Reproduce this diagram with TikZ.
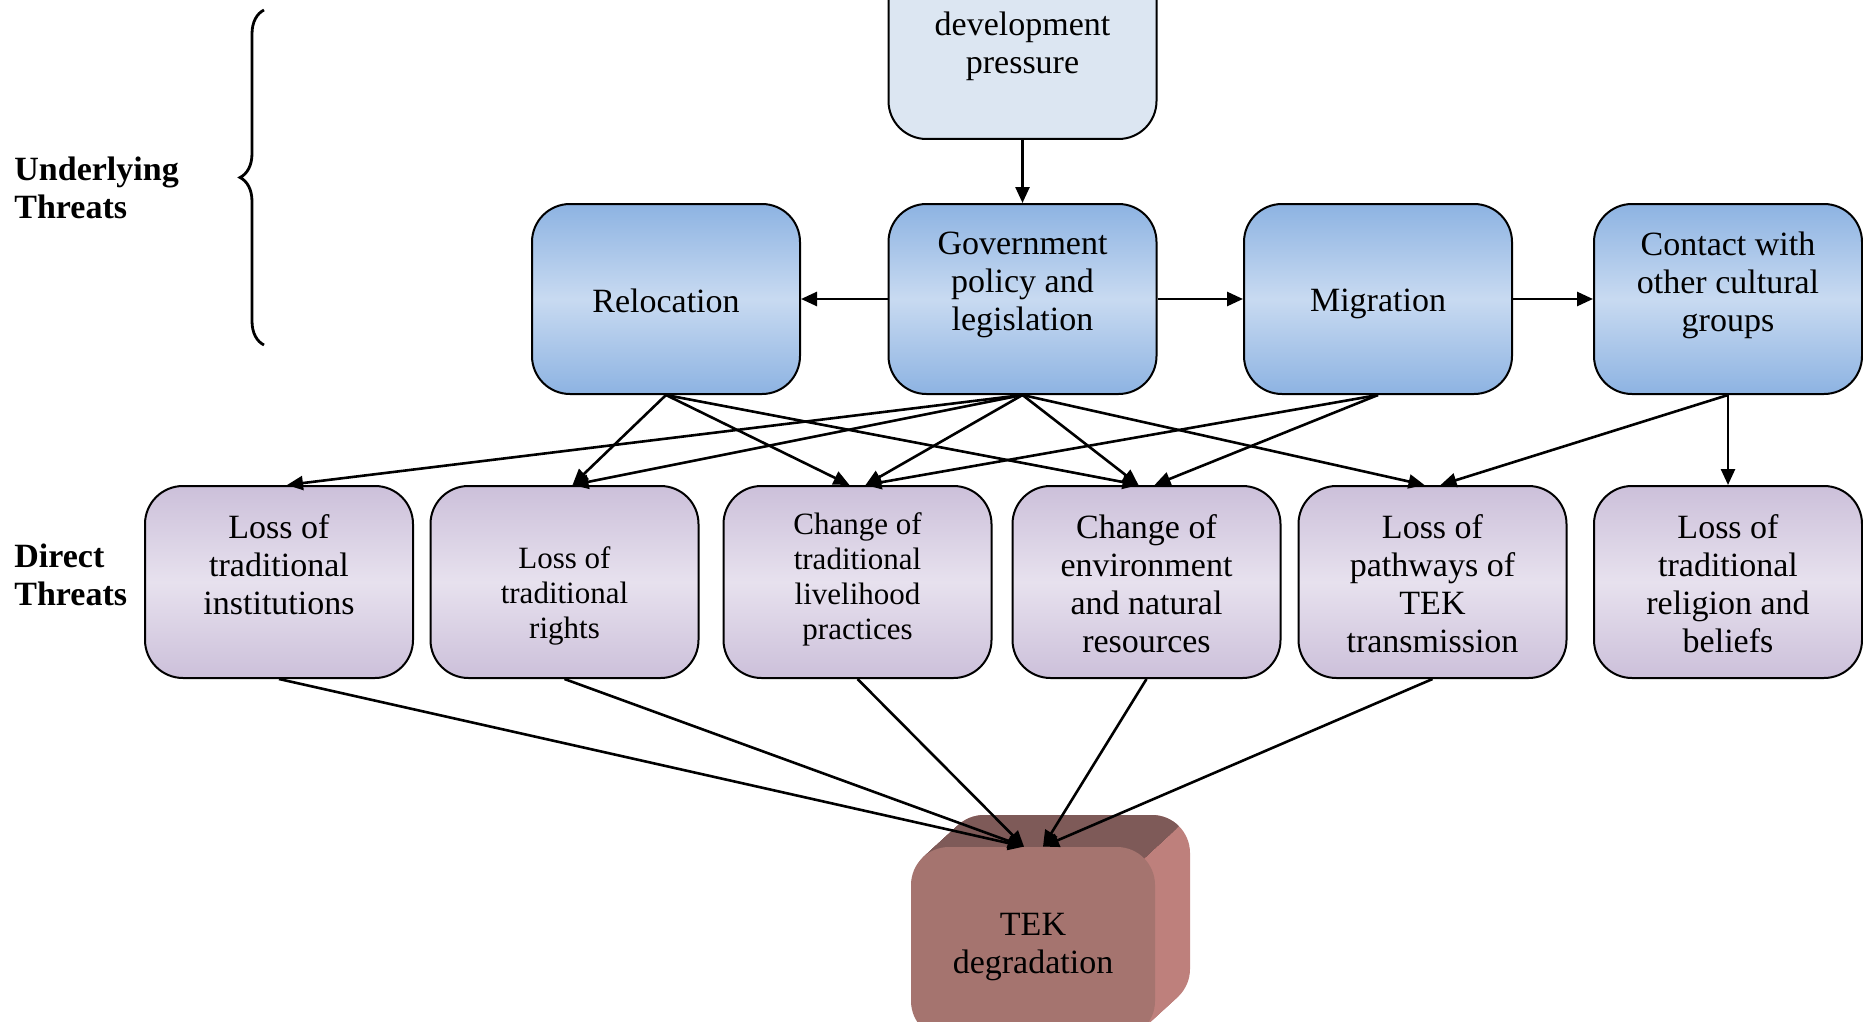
\documentclass[tikz,border=0pt]{standalone}
\usepackage{fontspec}
\setmainfont{Liberation Serif}
\usetikzlibrary{arrows.meta,decorations.pathreplacing}

\definecolor{blueEdge}{RGB}{141,179,226}
\definecolor{blueMid}{RGB}{200,218,241}
\definecolor{lilacEdge}{RGB}{204,192,218}
\definecolor{lilacMid}{RGB}{231,225,238}
\definecolor{paleBlue}{RGB}{220,230,242}
\definecolor{tekFront}{RGB}{165,116,111}
\definecolor{tekTop}{RGB}{126,90,88}
\definecolor{tekSide}{RGB}{190,128,124}

\tikzset{
  card/.style={draw=black, line width=1pt, rounded corners=19pt,
    minimum width=134pt, minimum height=95pt, inner sep=0pt},
  upper/.style={card, top color=blueEdge, bottom color=blueEdge, middle color=blueMid},
  direct/.style={card, minimum height=96pt, top color=lilacEdge, bottom color=lilacEdge, middle color=lilacMid},
  txt/.style={align=center, inner sep=0pt, font=\fontsize{17}{19}\selectfont},
  smalltxt/.style={align=center, inner sep=0pt, font=\fontsize{15.5}{17.5}\selectfont},
  tier/.style={align=left, inner sep=0pt, anchor=west, font=\fontsize{17}{19}\selectfont\bfseries},
  link/.style={line width=1.3pt, -{Triangle[length=8pt,width=7pt]}}
}

\begin{document}
\begin{tikzpicture}[x=0.5pt,y=-0.5pt]
\useasboundingbox (0,0) rectangle (1863,1022);
\clip (0,0) rectangle (1863,1022);

% tier labels and brace
\node[tier] (ulab) at (14,188) {Underlying\\Threats};
\node[tier] (dlab) at (14,575) {Direct\\Threats};
\draw[line width=1.4pt, decorate, decoration={brace, amplitude=12pt}] (264,345) -- (264,10);

% driver at the top
\node[card, fill=paleBlue] (dev) at (1022.5,44) {};
\node[txt] (devT) at (1022.5,46) {development\\pressure};

% underlying threats
\node[upper] (reloc) at (666,299) {};
\node[txt] (relocT) at (666,300.5) {Relocation};
\node[upper] (gov) at (1022.5,299) {};
\node[txt] (govT) at (1022.5,285) {Government\\policy and\\legislation};
\node[upper] (mig) at (1378,299) {};
\node[txt] (migT) at (1378,304) {Migration};
\node[upper] (contact) at (1728,299) {};
\node[txt] (contactT) at (1728,285) {Contact with\\other cultural\\groups};

% direct threats
\node[direct] (inst) at (279,582) {};
\node[txt] (instT) at (279,564.5) {Loss of\\traditional\\institutions};
\node[direct] (rights) at (564.5,582) {};
\node[smalltxt] (rightsT) at (564.5,595.5) {Loss of\\traditional\\rights};
\node[direct] (liveli) at (857.5,582) {};
\node[smalltxt] (liveliT) at (857.5,579) {Change of\\traditional\\livelihood\\practices};
\node[direct] (env) at (1146.5,582) {};
\node[txt] (envT) at (1146.5,583.5) {Change of\\environment\\and natural\\resources};
\node[direct] (trans) at (1432.5,582) {};
\node[txt] (transT) at (1432.5,583.5) {Loss of\\pathways of\\TEK\\transmission};
\node[direct] (relig) at (1728,582) {};
\node[txt] (religT) at (1728,583.5) {Loss of\\traditional\\religion and\\beliefs};

% extruded block behind the outcome
\foreach \k in {24,23,...,1}{
  \fill[tekSide, rounded corners=19pt]
    ({911+35*\k/24},{847-32*\k/24}) rectangle ({1155+35*\k/24},{1039-32*\k/24});
}
\begin{scope}
  \clip (1248,763) -- (793,1179) -- (700,1179) -- (700,700) -- (1248,700) -- cycle;
  \foreach \k in {24,23,...,1}{
    \fill[tekTop, rounded corners=19pt]
      ({911+35*\k/24},{847-32*\k/24}) rectangle ({1155+35*\k/24},{1039-32*\k/24});
  }
\end{scope}
\node[fill=tekFront, rounded corners=19pt, minimum width=122pt, minimum height=96pt,
  inner sep=0pt] (tek) at (1033,943) {};
\node[txt] (tekT) at (1033,947) {TEK\\degradation};

% connectors between the upper boxes
\draw[link] (dev) -- (gov);
\draw[link] (gov) -- (reloc);
\draw[link] (gov) -- (mig);
\draw[link] (mig) -- (contact);

% underlying -> direct
\draw[link] (gov.south) -- ([xshift=4pt]inst.north);
\draw[link] (reloc.south) -- ([xshift=4pt]rights.north);
\draw[link] (gov.south) -- ([xshift=4pt]rights.north);
\draw[link] (reloc.south) -- ([xshift=-4pt]liveli.north);
\draw[link] (gov.south) -- ([xshift=4pt]liveli.north);
\draw[link] (mig.south) -- ([xshift=4pt]liveli.north);
\draw[link] (reloc.south) -- ([xshift=-4pt]env.north);
\draw[link] (gov.south) -- ([xshift=-4pt]env.north);
\draw[link] (mig.south) -- ([xshift=4pt]env.north);
\draw[link] (gov.south) -- ([xshift=-4pt]trans.north);
\draw[link] (contact.south) -- ([xshift=4pt]trans.north);
\draw[link] (contact.south) -- (relig.north);

% direct -> outcome
\draw[link] (inst.south) -- ([xshift=-4.5pt]tek.north);
\draw[link] (rights.south) -- ([xshift=-4.5pt]tek.north);
\draw[link] (liveli.south) -- ([xshift=-4.5pt]tek.north);
\draw[link] (env.south) -- ([xshift=5pt]tek.north);
\draw[link] (trans.south) -- ([xshift=5pt]tek.north);
\end{tikzpicture}
\end{document}
